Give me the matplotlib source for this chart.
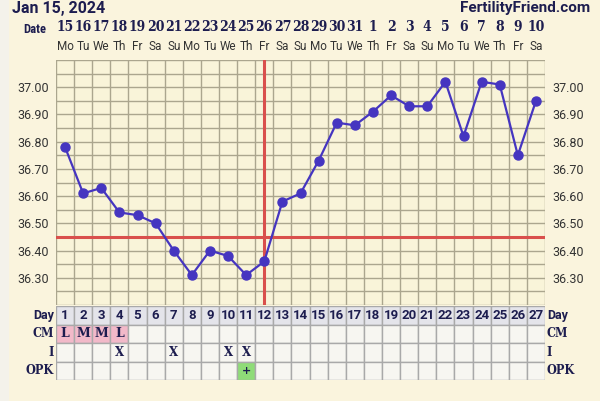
import numpy as np
import matplotlib
matplotlib.use("Agg")
from matplotlib import pyplot as plt
from matplotlib.patches import Rectangle

# chart data
cycle_days = list(range(1, 28))
temps = [36.78, 36.61, 36.63, 36.54, 36.53, 36.50, 36.40, 36.31, 36.40, 36.38,
         36.31, 36.36, 36.58, 36.61, 36.73, 36.87, 36.86, 36.91, 36.97, 36.93,
         36.93, 37.02, 36.82, 37.02, 37.01, 36.75, 36.95]
dates = [15, 16, 17, 18, 19, 20, 21, 22, 23, 24, 25, 26, 27, 28, 29, 30, 31,
         1, 2, 3, 4, 5, 6, 7, 8, 9, 10]
weekdays = ["Mo", "Tu", "We", "Th", "Fr", "Sa", "Su"] * 4
weekdays = weekdays[:27]
coverline = 36.45
ovulation_day = 12
ytick_vals = [36.30, 36.40, 36.50, 36.60, 36.70, 36.80, 36.90, 37.00]
cm_marks = {1: "L", 2: "M", 3: "M", 4: "L"}
i_marks = [4, 7, 10, 11]
opk_marks = {11: "+"}

bg = "#faf4dd"
plot_bg = "#f9f4d9"
grid_col = "#aba68e"
navy = "#1d1d4f"
line_col = "#4535c0"
red = "#d9504c"

fig = plt.figure(figsize=(6, 4.01), dpi=100)
fig.patch.set_facecolor(bg)
W, H = 600, 401

def fx(px):
    return px / W

def fy(py):
    return 1 - py / H

# faint stripe on the left edge
fig.patches.append(Rectangle((0, 0), fx(9), 1, transform=fig.transFigure,
                             facecolor="#f4f2ea", edgecolor="none", zorder=0))

left, right, top, bottom = 56, 545, 60, 305
ax = fig.add_axes([fx(left), fy(bottom), fx(right - left), fy(top) - fy(bottom)])
ax.set_facecolor(plot_bg)
ax.set_xlim(0.5, 27.5)
ax.set_ylim(36.20, 37.10)

for x in np.arange(0.5, 28, 1):
    ax.axvline(x, color=grid_col, lw=1, zorder=1)
for y in np.arange(36.20, 37.11, 0.05):
    ax.axhline(y, color=grid_col, lw=1, zorder=1)

ax.axhline(coverline, color=red, lw=2.2, zorder=2)
ax.axvline(ovulation_day, color=red, lw=2.2, zorder=2)
ax.plot(cycle_days, temps, color=line_col, lw=1.6, marker="o", ms=6.5,
        zorder=3)

ax.set_xticks([])
ax.set_yticks(ytick_vals)
ax.set_yticklabels([f"{v:.2f}" for v in ytick_vals], family="Roboto",
                   fontsize=9, color="#333333")
ax.tick_params(axis="y", length=0, pad=5, labelright=True, right=False)
for s in ax.spines.values():
    s.set_visible(False)

# date header
for d, dt, wd in zip(cycle_days, dates, weekdays):
    ax.text(d, 1.135, str(dt), transform=ax.get_xaxis_transform(), ha="center",
            va="center", fontsize=10, fontweight="bold", color=navy,
            family="DejaVu Serif", fontstretch="condensed")
    ax.text(d, 1.055, wd, transform=ax.get_xaxis_transform(), ha="center",
            va="center", fontsize=8.5, color="#333333", family="Roboto")
ax.text(-0.02, 1.125, "Date", transform=ax.transAxes, ha="right", va="center",
        fontsize=9, fontweight="bold", color=navy, family="Roboto Condensed")

# table below the chart
tax = fig.add_axes([fx(left), fy(380), fx(right - left), fy(306) - fy(380)])
tax.set_xlim(0.5, 27.5)
tax.set_ylim(4, 0)
tax.axis("off")
for d in cycle_days:
    for r in range(4):
        fc = "#f7f6f1"
        if r == 0:
            fc = "#e4e4ea"
        if r == 1 and d in cm_marks:
            fc = "#f2b9c9"
        if r == 3 and d in opk_marks:
            fc = "#8fdc78"
        tax.add_patch(Rectangle((d - 0.5, r), 1, 1, facecolor=fc,
                                edgecolor="#a9a9a9", lw=1))
    tax.text(d, 0.5, str(d), ha="center", va="center", fontsize=9.5,
             fontweight="bold", color=navy, family="Roboto")
    if d in cm_marks:
        tax.text(d, 1.5, cm_marks[d], ha="center", va="center", fontsize=9,
                 fontweight="bold", color=navy, family="DejaVu Serif")
    if d in i_marks:
        tax.text(d, 2.5, "X", ha="center", va="center", fontsize=8.5,
                 fontweight="bold", color=navy, family="DejaVu Serif")
    if d in opk_marks:
        tax.text(d, 3.5, opk_marks[d], ha="center", va="center", fontsize=8,
                 fontweight="bold", color=navy, family="DejaVu Sans")

row_names = ["Day", "CM", "I", "OPK"]
for r, name in enumerate(row_names):
    fam = "Roboto" if r == 0 else "DejaVu Serif"
    tax.text(0.4, r + 0.5, name, ha="right", va="center", fontsize=9,
             fontweight="bold", color=navy, family=fam,
             fontstretch="condensed")
    tax.text(27.6, r + 0.5, name, ha="left", va="center", fontsize=9,
             fontweight="bold", color=navy, family=fam,
             fontstretch="condensed")

fig.text(fx(12), fy(1), "Jan 15, 2024", ha="left", va="top", fontsize=11.5,
         fontweight="bold", color=navy, family="Roboto")
fig.text(fx(590), fy(1), "FertilityFriend.com", ha="right", va="top",
         fontsize=11, fontweight="bold", color=navy, family="Roboto")

fig.savefig("out.png", dpi=100, facecolor=fig.get_facecolor())
